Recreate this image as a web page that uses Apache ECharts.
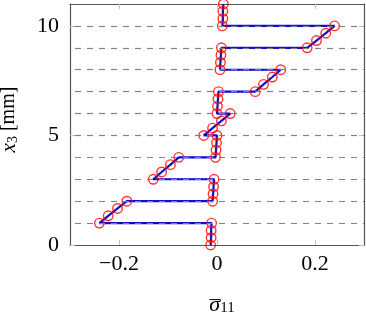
<!DOCTYPE html>
<html>
<head>
<meta charset="utf-8">
<script src="https://cdn.jsdelivr.net/npm/echarts@6/dist/echarts.min.js"></script>
<style>
html,body{margin:0;padding:0;background:#fff;}
#chart{width:366px;height:312px;}
</style>
</head>
<body>
<div id="chart"></div>
<script>
// through-thickness position x3 [mm]
const x3 = [
  0, 0.333, 0.667, 1,
  1, 1.333, 1.667, 2,
  2, 2.333, 2.667, 3,
  3, 3.333, 3.667, 4,
  4, 4.333, 4.667, 5,
  5, 5.333, 5.667, 6,
  6, 6.333, 6.667, 7,
  7, 7.333, 7.667, 8,
  8, 8.333, 8.667, 9,
  9, 9.333, 9.667, 10,
  10, 10.333, 10.667, 11
];
// normalized stress sigma_11
const sigma11 = [
  -0.013, -0.012, -0.012, -0.011,
  -0.240, -0.222, -0.203, -0.184,
  -0.009, -0.008, -0.007, -0.006,
  -0.130, -0.113, -0.095, -0.078,
  -0.003, -0.002, -0.001, 0.000,
  -0.027, -0.009, 0.009, 0.027,
  0.000, 0.001, 0.002, 0.003,
  0.078, 0.095, 0.113, 0.130,
  0.006, 0.007, 0.008, 0.009,
  0.184, 0.203, 0.222, 0.240,
  0.011, 0.012, 0.012, 0.013
];
// layer interfaces (dashed lines)
const interfaces = [1, 2, 3, 4, 5, 6, 7, 8, 9, 10];
const xTicks = [-0.2, 0, 0.2];
const yTicks = [0, 5, 10];

const pts = sigma11.map((v, i) => [v, x3[i]]);
const FONT = '"Liberation Serif", "DejaVu Serif", serif';
const frameColor = '#555555';
const tickColor = '#c0c0c0';

function fmtX(v) {
  if (Math.abs(v) < 1e-9) return '0';
  return (v < 0 ? '\u2212' : '') + Math.abs(v).toString();
}

const chart = echarts.init(document.getElementById('chart'), null, {renderer: 'canvas'});
chart.setOption({
  animation: false,
  backgroundColor: '#ffffff',
  grid: {left: 70, right: 2, top: 4, bottom: 67, containLabel: false, outerBoundsMode: 'none'},
  xAxis: [{
    type: 'value', min: -0.3, max: 0.3, interval: 0.1,
    axisLine: {show: true, onZero: false, lineStyle: {color: frameColor, width: 1.2}},
    axisTick: {show: true, inside: true, length: 5, lineStyle: {color: tickColor},
      customValues: xTicks},
    axisLabel: {show: true, color: '#000', fontFamily: FONT, fontSize: 22, margin: 8,
      customValues: xTicks, formatter: fmtX},
    splitLine: {show: false},
    name: '{bar|_}\n{m|\u03C3}{s|11}',
    nameLocation: 'middle', nameGap: 31,
    nameTextStyle: {
      align: 'center',
      padding: [0, 0, 0, 10],
      rich: {
        bar: {fontFamily: FONT, fontSize: 22, color: '#000', lineHeight: 6, padding: [0, 14, 0, 0]},
        m: {fontFamily: FONT, fontSize: 22, fontStyle: 'italic', color: '#000', lineHeight: 22, verticalAlign: 'top', padding: [0, 0, 6, 0]},
        s: {fontFamily: FONT, fontSize: 15, color: '#000', lineHeight: 15, verticalAlign: 'bottom'}
      }
    }
  }, {
    type: 'value', min: -0.3, max: 0.3, interval: 0.1, position: 'top',
    axisLine: {show: true, onZero: false, lineStyle: {color: frameColor, width: 1.2}},
    axisTick: {show: true, inside: true, length: 5, lineStyle: {color: tickColor}, customValues: xTicks},
    axisLabel: {show: false},
    splitLine: {show: false}
  }],
  yAxis: [{
    type: 'value', min: 0, max: 11, interval: 5,
    axisLine: {show: true, onZero: false, lineStyle: {color: frameColor, width: 1.2}},
    axisTick: {show: true, inside: true, length: 5, lineStyle: {color: tickColor}, customValues: yTicks},
    axisLabel: {show: true, color: '#000', fontFamily: FONT, fontSize: 22, margin: 11, customValues: yTicks},
    splitLine: {show: false},
    name: '{m|x}{s|3}{n| [mm]}',
    nameLocation: 'middle', nameGap: 36, nameRotate: 90,
    nameTextStyle: {
      padding: [0, 0, 0, 10],
      rich: {
        m: {fontFamily: FONT, fontSize: 21, fontStyle: 'italic', color: '#000', lineHeight: 21, verticalAlign: 'top', padding: [0, 0, 6, 0]},
        s: {fontFamily: FONT, fontSize: 14, color: '#000', lineHeight: 14, verticalAlign: 'bottom'},
        n: {fontFamily: FONT, fontSize: 20, color: '#000', lineHeight: 21, verticalAlign: 'top', padding: [0, 0, 6, 0]}
      }
    }
  }, {
    type: 'value', min: 0, max: 11, interval: 5, position: 'right',
    axisLine: {show: true, onZero: false, lineStyle: {color: frameColor, width: 1.2}},
    axisTick: {show: true, inside: true, length: 5, lineStyle: {color: tickColor}, customValues: yTicks},
    axisLabel: {show: false},
    splitLine: {show: false}
  }],
  series: [{
    type: 'line', data: pts, xAxisIndex: 0, yAxisIndex: 0,
    showSymbol: false, symbol: 'none', clip: false, z: 2,
    lineStyle: {color: '#1515e0', width: 2.2},
    markLine: {
      silent: true, symbol: ['none', 'none'], label: {show: false},
      lineStyle: {color: '#808080', width: 1.2, type: [6, 6], dashOffset: 7},
      data: interfaces.map(v => ({yAxis: v}))
    }
  }, {
    type: 'line', data: pts, xAxisIndex: 0, yAxisIndex: 0,
    showSymbol: false, symbol: 'none', clip: false, z: 3,
    lineStyle: {color: '#000050', width: 0.9, type: [2, 2]}
  }, {
    type: 'scatter', data: pts, xAxisIndex: 0, yAxisIndex: 0,
    symbol: 'circle', symbolSize: 9.5, clip: false, z: 4,
    itemStyle: {color: 'rgba(0,0,0,0)', borderColor: '#ff0000', borderWidth: 1.4}
  }]
});
</script>
</body>
</html>
